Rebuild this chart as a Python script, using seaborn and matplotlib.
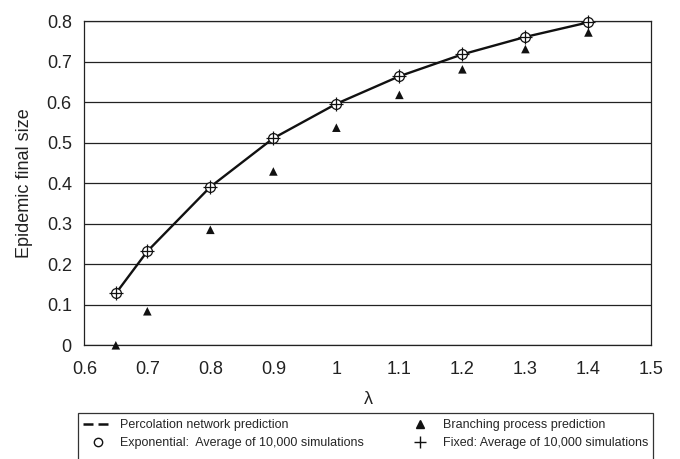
import numpy as np
import pandas as pd
import matplotlib
matplotlib.use("Agg")
import matplotlib.pyplot as plt
import seaborn as sns
from matplotlib.lines import Line2D
from matplotlib.patches import Rectangle
from matplotlib.ticker import FuncFormatter

# DATA
lam = [0.65, 0.7, 0.8, 0.9, 1.0, 1.1, 1.2, 1.3, 1.4]
percolation = [0.128, 0.232, 0.391, 0.511, 0.596, 0.664, 0.718, 0.761, 0.797]
exponential_sim = [0.128, 0.232, 0.391, 0.511, 0.596, 0.664, 0.718, 0.761, 0.797]
fixed_sim = [0.128, 0.232, 0.391, 0.511, 0.596, 0.664, 0.718, 0.761, 0.797]
branching = [0.0, 0.084, 0.285, 0.429, 0.537, 0.618, 0.681, 0.731, 0.772]

x_ticks = [0.6, 0.7, 0.8, 0.9, 1.0, 1.1, 1.2, 1.3, 1.4, 1.5]
y_ticks = [0, 0.1, 0.2, 0.3, 0.4, 0.5, 0.6, 0.7, 0.8]

df = pd.DataFrame({'lam': lam, 'perc': percolation, 'expo': exponential_sim,
                   'fixed': fixed_sim, 'branch': branching})

sns.set_style("white")
plt.rcParams['font.family'] = ['Liberation Sans', 'DejaVu Sans']

fig = plt.figure(figsize=(6.8, 4.59), dpi=100)
ax = fig.add_axes([0.124, 0.2477, 0.834, 0.7063])

# horizontal grid
for yv in y_ticks:
    ax.axhline(yv, color='#222222', lw=0.9, zorder=1)

sns.lineplot(data=df, x='lam', y='perc', ax=ax, color='#111111', lw=1.7, zorder=2)
sns.scatterplot(data=df, x='lam', y='branch', ax=ax, marker='^', s=38,
                color='#111111', edgecolor='none', zorder=3, clip_on=False)
sns.scatterplot(data=df, x='lam', y='expo', ax=ax, marker='o', s=50,
                facecolor='white', edgecolor='#111111', linewidth=0.9, zorder=4, clip_on=False)
sns.scatterplot(data=df, x='lam', y='fixed', ax=ax, marker='+', s=110,
                color='#111111', linewidth=0.9, zorder=5, clip_on=False)

ax.set_xlim(0.6, 1.5)
ax.set_ylim(0, 0.8)
ax.set_xticks(x_ticks)
ax.set_yticks(y_ticks)
fmt = FuncFormatter(lambda v, p: '%g' % round(v, 2))
ax.xaxis.set_major_formatter(fmt)
ax.yaxis.set_major_formatter(fmt)
ax.tick_params(axis='both', direction='out', length=4, width=0.9, color='#222222',
               labelsize=13, labelcolor='#222222', pad=5)
ax.tick_params(axis='x', pad=7)
for s in ax.spines.values():
    s.set_visible(True)
    s.set_color('#222222')
    s.set_linewidth(0.9)

ax.set_xlabel('λ', fontsize=13, color='#222222', labelpad=10)
ax.set_ylabel('Epidemic final size', fontsize=13, color='#222222', labelpad=10)

handles = [
    Line2D([], [], color='#111111', lw=1.8, linestyle=(0, (4, 2))),
    Line2D([], [], marker='o', markersize=6, markerfacecolor='white',
           markeredgecolor='#111111', linestyle='none'),
    Line2D([], [], marker='^', markersize=6, color='#111111', linestyle='none'),
    Line2D([], [], marker='+', markersize=9, color='#111111', linestyle='none'),
]
labels = ['Percolation network prediction',
          'Exponential:  Average of 10,000 simulations',
          'Branching process prediction',
          'Fixed: Average of 10,000 simulations']
leg = fig.legend(handles, labels, ncol=2, loc='upper left', mode='expand',
                 bbox_to_anchor=(0.1147, -0.01, 0.846, 0.108),
                 bbox_transform=fig.transFigure, fontsize=9, frameon=False,
                 handlelength=2.4, handletextpad=0.6, borderaxespad=0,
                 labelspacing=0.5, borderpad=0.4)

# legend box runs off the bottom edge of the figure
fig.patches.append(Rectangle((0.1147, -0.02), 0.846, 0.1202, transform=fig.transFigure,
                             fill=False, edgecolor='#333333', lw=0.9))

fig.savefig('out.png', dpi=100)
